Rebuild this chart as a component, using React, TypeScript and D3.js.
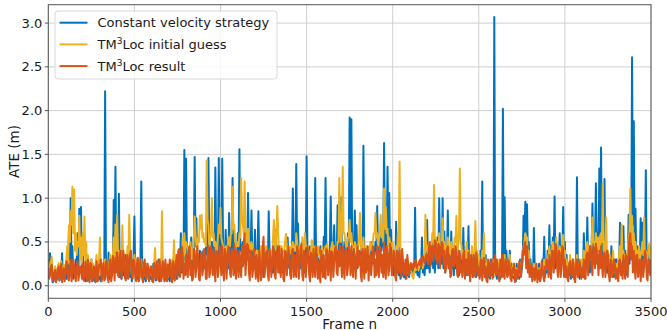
import React from "react";
import * as d3 from "d3";

// ATE per frame, in hundredths of a metre.
// "...At10" arrays: frames 0, 10, 20 ... 3500; "...Mid" arrays: frames 5, 15 ... 3495
const frameStep = 5;

const constantVelocityAt10 = [
  30, 37, 18, 5, 20, 8, 24, 12, 37, 10,
  15, 40, 64, 100, 45, 20, 30, 60, 88, 90,
  40, 20, 10, 25, 8, 30, 15, 5, 22, 12,
  10, 15, 20, 222, 20, 38, 15, 30, 98, 136,
  40, 105, 25, 30, 15, 35, 20, 45, 25, 18,
  79, 30, 15, 10, 119, 25, 20, 8, 18, 10,
  12, 25, 10, 20, 30, 8, 18, 25, 10, 20,
  10, 22, 15, 28, 12, 20, 35, 60, 30, 155,
  145, 40, 30, 55, 35, 147, 77, 25, 40, 30,
  40, 30, 60, 146, 35, 50, 45, 135, 60, 146,
  50, 145, 30, 64, 25, 83, 20, 123, 60, 35,
  60, 156, 40, 50, 35, 45, 106, 40, 86, 30,
  64, 20, 85, 15, 39, 10, 25, 30, 85, 20,
  15, 30, 64, 45, 20, 35, 15, 40, 30, 55,
  20, 40, 111, 30, 139, 71, 25, 40, 30, 20,
  148, 30, 45, 25, 40, 123, 35, 20, 45, 30,
  56, 123, 30, 40, 102, 35, 69, 40, 92, 35,
  101, 40, 50, 35, 60, 192, 190, 45, 86, 69,
  40, 30, 45, 160, 35, 25, 40, 30, 50, 35,
  50, 91, 40, 70, 55, 163, 60, 136, 106, 64,
  40, 35, 73, 30, 45, 25, 30, 20, 15, 22,
  20, 18, 25, 89, 20, 15, 28, 55, 22, 30,
  75, 35, 40, 50, 45, 40, 55, 100, 45, 100,
  62, 40, 86, 35, 62, 30, 45, 35, 40, 30,
  40, 66, 30, 45, 68, 25, 40, 30, 35, 25,
  30, 40, 119, 25, 35, 20, 15, 30, 20, 307,
  15, 20, 25, 20, 202, 101, 40, 30, 40, 25,
  20, 12, 25, 15, 30, 20, 80, 96, 93, 50,
  30, 15, 66, 20, 12, 25, 18, 30, 56, 25,
  40, 69, 45, 55, 102, 50, 40, 60, 45, 90,
  50, 35, 25, 30, 20, 25, 15, 124, 30, 20,
  25, 60, 30, 78, 45, 35, 94, 50, 117, 60,
  134, 158, 50, 122, 40, 35, 30, 45, 25, 30,
  30, 20, 72, 35, 68, 40, 30, 81, 50, 261,
  188, 88, 45, 35, 77, 72, 30, 132, 40, 30,
  35,
];
const constantVelocityMid = [
  10, 15, 4, 12, 5, 15, 6, 10, 8, 20,
  8, 12, 30, 20, 8, 12, 25, 15, 35, 12,
  8, 5, 15, 6, 12, 5, 8, 15, 5, 8,
  5, 8, 12, 15, 10, 8, 12, 20, 40, 20,
  15, 10, 8, 12, 20, 8, 15, 10, 5, 30,
  15, 8, 5, 30, 12, 8, 5, 12, 6, 8,
  5, 15, 6, 12, 5, 10, 12, 5, 15, 8,
  5, 12, 8, 10, 8, 12, 25, 15, 20, 30,
  30, 20, 40, 25, 35, 45, 25, 20, 35, 25,
  20, 40, 35, 45, 25, 35, 20, 45, 30, 35,
  35, 45, 25, 35, 20, 40, 25, 35, 30, 20,
  35, 40, 45, 25, 35, 30, 40, 35, 30, 25,
  25, 35, 30, 15, 25, 15, 30, 20, 35, 20,
  15, 30, 35, 25, 15, 35, 20, 30, 20, 25,
  20, 35, 40, 35, 45, 30, 20, 35, 15, 40,
  35, 30, 20, 35, 40, 35, 30, 25, 20, 35,
  40, 35, 20, 40, 35, 40, 30, 35, 30, 35,
  35, 30, 25, 35, 45, 55, 35, 40, 45, 20,
  25, 35, 40, 35, 25, 30, 20, 40, 25, 35,
  40, 35, 30, 40, 45, 40, 45, 55, 35, 30,
  12, 20, 15, 12, 8, 12, 10, 8, 12, 10,
  15, 12, 20, 15, 12, 10, 20, 15, 12, 20,
  20, 15, 25, 20, 15, 25, 20, 30, 25, 20,
  15, 25, 20, 15, 20, 12, 20, 15, 12, 20,
  12, 20, 12, 20, 12, 15, 10, 15, 10, 15,
  10, 20, 15, 10, 8, 10, 8, 12, 10, 15,
  8, 10, 8, 15, 30, 20, 12, 15, 8, 10,
  8, 5, 10, 8, 12, 30, 45, 60, 35, 20,
  10, 8, 15, 10, 8, 10, 12, 20, 10, 15,
  20, 15, 25, 30, 20, 25, 30, 15, 30, 20,
  15, 10, 12, 8, 10, 8, 20, 15, 8, 10,
  15, 25, 20, 30, 15, 40, 30, 50, 35, 45,
  60, 30, 40, 20, 15, 12, 10, 15, 10, 12,
  10, 25, 15, 20, 15, 12, 30, 25, 40, 70,
  40, 20, 15, 30, 25, 15, 40, 20, 15, 20,
];

const initialGuessAt10 = [
  28, 15, 33, 12, 22, 14, 26, 18, 10, 24,
  20, 45, 69, 85, 113, 110, 60, 50, 80, 55,
  60, 79, 50, 35, 20, 30, 25, 18, 35, 22,
  55, 25, 18, 30, 15, 22, 35, 28, 55, 70,
  81, 40, 30, 69, 35, 25, 45, 81, 30, 20,
  35, 30, 20, 15, 30, 22, 18, 12, 25, 15,
  20, 15, 43, 18, 25, 30, 85, 22, 15, 25,
  18, 25, 30, 52, 20, 25, 40, 35, 55, 60,
  50, 45, 35, 40, 30, 79, 45, 55, 80, 81,
  60, 50, 143, 70, 55, 100, 60, 50, 40, 70,
  89, 50, 35, 45, 40, 55, 60, 113, 70, 45,
  50, 60, 123, 70, 119, 55, 65, 45, 50, 40,
  35, 40, 30, 20, 25, 45, 20, 35, 30, 40,
  30, 75, 40, 91, 35, 45, 30, 40, 59, 35,
  35, 45, 50, 40, 60, 35, 45, 30, 40, 60,
  45, 40, 35, 52, 30, 45, 40, 35, 30, 45,
  40, 45, 48, 35, 40, 50, 45, 40, 50, 123,
  50, 136, 60, 45, 55, 75, 60, 40, 50, 45,
  45, 83, 40, 55, 35, 45, 30, 50, 40, 60,
  83, 60, 55, 81, 70, 111, 90, 65, 55, 45,
  50, 40, 45, 60, 142, 35, 30, 25, 20, 18,
  22, 15, 8, 20, 25, 18, 22, 30, 25, 81,
  45, 50, 40, 60, 115, 55, 50, 60, 45, 77,
  50, 45, 55, 40, 50, 45, 55, 80, 45, 134,
  45, 40, 35, 50, 40, 30, 45, 35, 74, 40,
  35, 30, 40, 60, 25, 30, 20, 25, 30, 22,
  20, 25, 30, 20, 25, 35, 30, 25, 35, 20,
  25, 15, 20, 18, 25, 30, 45, 60, 55, 40,
  20, 12, 25, 18, 10, 20, 15, 25, 30, 20,
  30, 45, 35, 50, 40, 55, 35, 45, 40, 58,
  40, 30, 25, 35, 20, 30, 25, 35, 25, 30,
  30, 40, 35, 50, 45, 40, 78, 50, 60, 55,
  55, 60, 117, 50, 78, 40, 35, 30, 40, 25,
  25, 30, 45, 70, 40, 35, 30, 55, 111, 80,
  60, 50, 40, 45, 35, 50, 78, 40, 35, 48,
  45,
];
const initialGuessMid = [
  12, 26, 8, 18, 10, 20, 10, 28, 15, 8,
  30, 25, 50, 70, 60, 40, 35, 45, 30, 25,
  35, 30, 20, 15, 28, 12, 15, 25, 12, 30,
  15, 10, 25, 12, 18, 28, 15, 35, 30, 40,
  35, 20, 25, 30, 15, 20, 30, 40, 12, 25,
  20, 12, 25, 10, 15, 12, 25, 8, 12, 20,
  10, 25, 15, 12, 20, 15, 25, 12, 20, 10,
  22, 12, 20, 15, 28, 35, 20, 30, 25, 35,
  45, 35, 50, 30, 55, 60, 40, 50, 65, 55,
  50, 45, 75, 45, 60, 55, 45, 40, 55, 60,
  55, 45, 40, 35, 55, 45, 60, 65, 50, 45,
  45, 55, 75, 60, 65, 45, 50, 40, 45, 40,
  35, 40, 30, 45, 35, 40, 45, 30, 40, 35,
  55, 50, 65, 60, 40, 45, 35, 50, 45, 35,
  40, 35, 45, 40, 50, 35, 40, 55, 35, 45,
  45, 35, 40, 45, 35, 40, 45, 35, 40, 35,
  40, 45, 35, 40, 45, 35, 45, 40, 50, 65,
  75, 60, 50, 45, 55, 50, 45, 40, 45, 35,
  55, 45, 40, 35, 45, 35, 40, 45, 50, 60,
  55, 45, 60, 55, 50, 65, 60, 45, 50, 45,
  25, 30, 35, 45, 40, 20, 15, 20, 15, 20,
  18, 10, 15, 18, 20, 22, 25, 20, 30, 40,
  30, 35, 45, 50, 40, 30, 40, 35, 45, 35,
  30, 40, 30, 35, 25, 40, 50, 35, 60, 50,
  30, 25, 30, 25, 20, 25, 30, 40, 30, 25,
  20, 25, 30, 20, 15, 20, 15, 20, 15, 12,
  15, 20, 12, 15, 20, 18, 15, 20, 15, 12,
  12, 10, 15, 12, 20, 35, 50, 45, 30, 25,
  15, 8, 12, 10, 15, 10, 20, 15, 18, 25,
  35, 25, 40, 30, 45, 30, 40, 30, 45, 35,
  20, 15, 20, 15, 25, 15, 20, 15, 20, 15,
  25, 30, 40, 35, 30, 45, 50, 40, 45, 40,
  40, 50, 40, 35, 30, 25, 20, 25, 15, 20,
  15, 35, 25, 30, 20, 25, 40, 60, 50, 40,
  35, 30, 25, 30, 40, 35, 30, 25, 40, 30,
];

const locResultAt10 = [
  20, 12, 24, 5, 18, 10, 22, 14, 4, 20,
  12, 25, 6, 30, 15, 22, 5, 28, 14, 20,
  25, 10, 20, 30, 4, 24, 8, 18, 28, 6,
  22, 5, 26, 8, 20, 4, 30, 12, 24, 32,
  38, 10, 40, 20, 32, 6, 35, 22, 40, 8,
  28, 5, 32, 10, 22, 4, 30, 8, 20, 14,
  22, 4, 18, 28, 6, 24, 10, 20, 30, 5,
  12, 26, 4, 18, 24, 8, 42, 20, 38, 25,
  35, 10, 45, 28, 8, 40, 22, 30, 6, 38,
  20, 35, 8, 45, 15, 30, 42, 5, 38, 22,
  30, 45, 6, 38, 25, 42, 10, 35, 48, 8,
  28, 40, 10, 22, 60, 30, 45, 6, 38, 20,
  22, 35, 5, 28, 12, 56, 20, 40, 6, 30,
  25, 40, 8, 35, 45, 10, 30, 5, 38, 28,
  30, 8, 42, 35, 10, 40, 25, 48, 6, 35,
  25, 38, 5, 30, 42, 10, 35, 28, 4, 30,
  35, 8, 40, 28, 6, 38, 25, 45, 12, 22,
  30, 45, 8, 40, 20, 38, 45, 10, 35, 28,
  22, 38, 5, 30, 42, 25, 6, 35, 28, 40,
  30, 45, 10, 40, 35, 50, 8, 42, 20, 35,
  25, 38, 6, 35, 40, 10, 28, 18, 8, 24,
  22, 18, 25, 28, 20, 24, 30, 26, 32, 28,
  35, 42, 22, 45, 38, 50, 25, 45, 40, 48,
  40, 20, 45, 35, 12, 42, 25, 38, 10, 35,
  25, 35, 8, 30, 38, 5, 28, 35, 10, 30,
  20, 28, 6, 32, 22, 4, 25, 18, 8, 15,
  12, 20, 5, 25, 35, 8, 28, 12, 22, 5,
  15, 4, 18, 12, 20, 25, 35, 50, 45, 30,
  15, 5, 20, 12, 4, 18, 8, 22, 5, 20,
  22, 35, 8, 40, 30, 45, 10, 38, 20, 42,
  30, 22, 5, 28, 10, 25, 4, 30, 12, 22,
  20, 30, 8, 38, 30, 45, 12, 40, 48, 35,
  40, 45, 10, 38, 25, 35, 5, 28, 15, 25,
  20, 5, 30, 25, 35, 8, 30, 40, 60, 45,
  40, 8, 35, 25, 5, 30, 25, 35, 6, 30,
  30,
];
const locResultMid = [
  8, 22, 6, 15, 4, 18, 6, 25, 12, 5,
  28, 8, 20, 5, 30, 10, 24, 6, 22, 8,
  6, 28, 5, 12, 26, 6, 22, 4, 10, 24,
  30, 18, 6, 28, 8, 25, 5, 34, 6, 15,
  12, 35, 8, 40, 10, 28, 8, 36, 12, 30,
  10, 25, 6, 30, 8, 26, 10, 25, 5, 22,
  6, 26, 8, 10, 30, 5, 28, 6, 12, 24,
  30, 6, 28, 6, 35, 40, 10, 45, 8, 12,
  15, 40, 12, 6, 42, 10, 45, 8, 35, 12,
  42, 8, 40, 10, 45, 12, 20, 40, 10, 45,
  12, 20, 42, 8, 45, 15, 42, 12, 20, 40,
  10, 22, 45, 50, 12, 48, 15, 40, 10, 42,
  8, 15, 40, 6, 45, 10, 38, 12, 42, 10,
  45, 12, 40, 15, 20, 42, 8, 40, 12, 45,
  12, 40, 10, 15, 45, 8, 42, 12, 40, 10,
  45, 12, 38, 10, 20, 45, 8, 12, 40, 10,
  10, 42, 12, 40, 35, 10, 42, 15, 40, 45,
  10, 20, 42, 12, 45, 12, 20, 42, 8, 45,
  40, 12, 42, 8, 15, 45, 30, 12, 45, 10,
  12, 20, 45, 15, 10, 20, 45, 12, 48, 12,
  40, 10, 40, 15, 20, 42, 12, 30, 35, 12,
  26, 20, 22, 30, 24, 28, 22, 34, 26, 36,
  25, 50, 45, 28, 52, 30, 48, 20, 50, 25,
  15, 42, 20, 10, 40, 22, 45, 12, 40, 15,
  10, 40, 30, 12, 20, 35, 10, 15, 38, 12,
  8, 30, 25, 10, 6, 30, 10, 30, 25, 35,
  30, 8, 30, 10, 12, 30, 10, 28, 8, 20,
  25, 10, 8, 28, 10, 40, 48, 20, 15, 10,
  25, 20, 6, 25, 15, 5, 28, 10, 22, 30,
  10, 18, 40, 15, 48, 20, 40, 10, 45, 10,
  10, 8, 25, 15, 30, 8, 25, 10, 28, 8,
  10, 8, 35, 12, 45, 20, 45, 20, 25, 12,
  20, 25, 35, 10, 40, 12, 30, 10, 30, 8,
  10, 28, 12, 8, 20, 35, 10, 55, 30, 15,
  20, 35, 10, 30, 20, 10, 40, 10, 30, 12,
];

const seriesNames = ["Constant velocity strategy", "initial guess", "result"];
const seriesColors = ["#0072BD", "#EDB120", "#D95319"];
const xTicks = [0, 500, 1000, 1500, 2000, 2500, 3000, 3500];
const yTicks = [0, 0.5, 1, 1.5, 2, 2.5, 3];

const W = 667;
const H = 330;
const left = 48.3, right = 651, top = 4.7, bottom = 298.3;
const font = "DejaVu Sans, sans-serif";

// put the 10-frame samples and the in-between samples back in frame order
function weave(at10: number[], mid: number[]) {
  return at10.flatMap((v, i) => (i < mid.length ? [v, mid[i]] : [v]));
}

export default function App() {
  const x = d3.scaleLinear().domain([0, 3500]).range([left, right]);
  const y = d3.scaleLinear().domain([-0.144, 3.21]).range([bottom, top]);

  const line = d3
    .line<number>()
    .x((_, i) => x(i * frameStep))
    .y((d) => y(d / 100));

  const all = [
    weave(constantVelocityAt10, constantVelocityMid),
    weave(initialGuessAt10, initialGuessMid),
    weave(locResultAt10, locResultMid),
  ];

  return (
    <svg width={W} height={H} style={{ position: "absolute", left: 0, top: 0 }} fontFamily={font}>
      <rect width={W} height={H} fill="#fff" />
      <defs>
        <clipPath id="plot">
          <rect x={left} y={top} width={right - left} height={bottom - top} />
        </clipPath>
      </defs>

      {/* grid */}
      {xTicks.map((t) => (
        <line key={"gx" + t} x1={x(t)} x2={x(t)} y1={top} y2={bottom} stroke="#cfcfcf" strokeWidth={1} />
      ))}
      {yTicks.map((t) => (
        <line key={"gy" + t} x1={left} x2={right} y1={y(t)} y2={y(t)} stroke="#cfcfcf" strokeWidth={1} />
      ))}

      <g clipPath="url(#plot)">
        {all.map((s, i) => (
          <path key={i} d={line(s) || ""} fill="none" stroke={seriesColors[i]} strokeWidth={2} strokeLinejoin="round" />
        ))}
      </g>

      {/* axes frame */}
      <rect x={left} y={top} width={right - left} height={bottom - top} fill="none" stroke="#555" strokeWidth={1} />

      {/* y ticks */}
      {yTicks.map((t) => (
        <g key={"ty" + t}>
          <line x1={left - 3.5} x2={left} y1={y(t)} y2={y(t)} stroke="#555" />
          <text x={left - 6} y={y(t)} dy="0.35em" textAnchor="end" fontSize={13} fill="#1a1a1a">
            {d3.format(".1f")(t)}
          </text>
        </g>
      ))}
      {/* x ticks */}
      {xTicks.map((t) => (
        <g key={"tx" + t}>
          <line x1={x(t)} x2={x(t)} y1={bottom} y2={bottom + 3.5} stroke="#555" />
          <text x={x(t)} y={316} textAnchor="middle" fontSize={13} fill="#1a1a1a">
            {t}
          </text>
        </g>
      ))}

      <text x={(left + right) / 2} y={328.5} textAnchor="middle" fontSize={13.5} fill="#1a1a1a">
        Frame n
      </text>
      <text transform={`translate(19,${(top + bottom) / 2}) rotate(-90)`} textAnchor="middle" fontSize={13.5} fill="#1a1a1a">
        ATE (m)
      </text>

      {/* legend */}
      <g>
        <rect x={55} y={11} width={222} height={68} rx={3} fill="#fff" fillOpacity={0.85} stroke="#d8d8d8" />
        {seriesNames.map((name, i) => {
          const ly = 22.7 + i * 21.7;
          return (
            <g key={name}>
              <line x1={59.5} x2={87.5} y1={ly} y2={ly} stroke={seriesColors[i]} strokeWidth={2} />
              <text x={97.5} y={ly} dy="0.36em" fontSize={13} fill="#1a1a1a">
                {i === 0 ? (
                  name
                ) : (
                  <>
                    TM
                    <tspan fontSize={9} dy={-5}>3</tspan>
                    <tspan dy={5}>Loc {name}</tspan>
                  </>
                )}
              </text>
            </g>
          );
        })}
      </g>
    </svg>
  );
}
